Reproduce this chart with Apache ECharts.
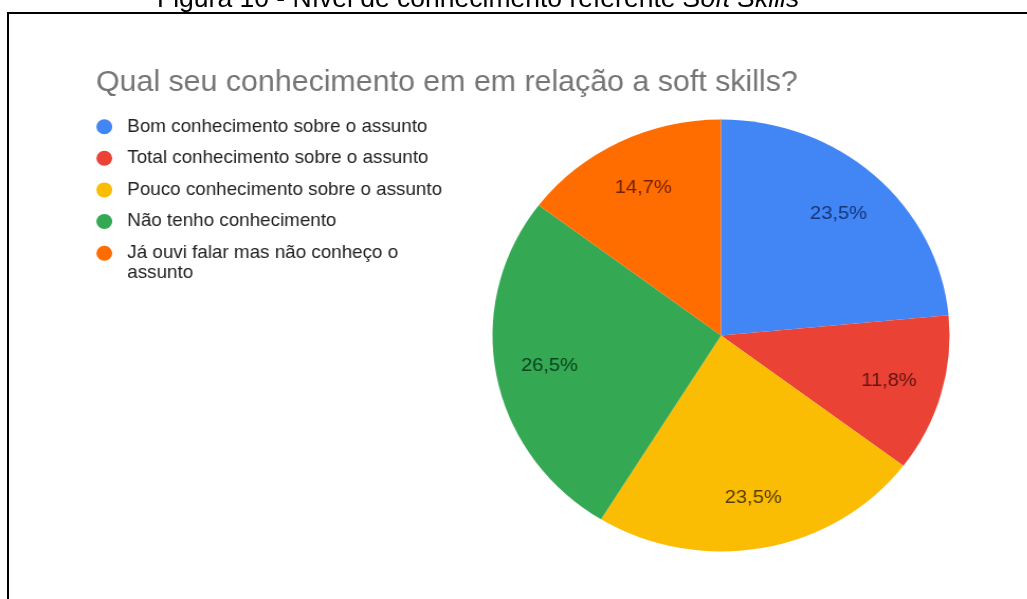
<!DOCTYPE html>
<html>
<head>
<meta charset="utf-8">
<script src="https://cdn.jsdelivr.net/npm/echarts@6/dist/echarts.min.js"></script>
<style>
  html, body { margin: 0; padding: 0; background: #fff; }
  #frame { position: absolute; left: 0; top: 0; width: 1027px; height: 599px; }
  #chart { position: absolute; left: 0; top: 0; width: 971px; height: 599px;
           transform: scaleX(1.058); transform-origin: 0 0; filter: blur(0.45px); }
</style>
</head>
<body>
<div id="frame"></div>
<div id="chart"></div>
<script>
// Survey answers: "Qual seu conhecimento em em relação a soft skills?"
const categories = [
  'Bom conhecimento sobre o assunto',
  'Total conhecimento sobre o assunto',
  'Pouco conhecimento sobre o assunto',
  'Não tenho conhecimento',
  'Já ouvi falar mas não conheço o assunto'
];
const shares = [23.5, 11.8, 23.5, 26.5, 14.7];   // percent of answers

const sliceColors = ['#4285f4', '#ea4335', '#fbbc04', '#34a853', '#ff6d01'];
const labelColors = ['#17367a', '#661210', '#573d00', '#0a451d', '#732300'];

const FONT = 'Arial, "Liberation Sans", sans-serif';

// Document caption and the framing box around the figure
const frame = echarts.init(document.getElementById('frame'), null, { renderer: 'canvas' });
frame.setOption({
  animation: false,
  graphic: [
    {
      type: 'rect',
      shape: { x: 8, y: 13, width: 3000, height: 3000 },
      style: { fill: 'none', stroke: '#000', lineWidth: 2 }
    },
    {
      type: 'text',
      x: 157, y: 0,
      style: {
        text: '{a|Figura 10 - Nível de conhecimento referente }{b|Soft Skills}',
        verticalAlign: 'middle',
        rich: {
          a: { fontFamily: FONT, fontSize: 26.5, fill: '#000' },
          b: { fontFamily: FONT, fontSize: 26.5, fontStyle: 'italic', fill: '#000' }
        }
      }
    }
  ]
});

const pieData = categories.map((name, i) => ({
  name,
  value: shares[i],
  itemStyle: { color: sliceColors[i] },
  label: { color: labelColors[i] }
}));

const legendText = { fontFamily: FONT, fontSize: 17.8, color: '#222', lineHeight: 20 };

const chart = echarts.init(document.getElementById('chart'), null, { renderer: 'canvas' });
chart.setOption({
  animation: false,
  title: {
    text: 'Qual seu conhecimento em em relação a soft skills?',
    left: 90.7, top: 69, padding: 0,
    textStyle: { fontFamily: FONT, fontSize: 28.7, fontWeight: 'normal', color: '#757575', lineHeight: 28 }
  },
  legend: [
    {
      orient: 'vertical',
      left: 91.1, top: 116.7, padding: 0,
      itemWidth: 33.4, itemHeight: 15, itemGap: 11.6,
      icon: 'circle',
      data: categories.slice(0, 4),
      textStyle: legendText
    },
    {
      // last entry wraps; a leading blank line keeps the dot beside its first line
      orient: 'vertical',
      left: 91.1, top: 223.3, padding: 0,
      itemWidth: 33.4, itemHeight: 15,
      icon: 'circle',
      data: categories.slice(4),
      formatter: name => '\n' + name,
      textStyle: Object.assign({}, legendText, { width: 300, overflow: 'break' })
    }
  ],
  series: [
    {
      type: 'pie',
      center: [681.5, 335.5],
      radius: [0, 216],
      startAngle: 90,
      clockwise: true,
      data: pieData,
      label: { show: false },
      labelLine: { show: false },
      emphasis: { disabled: true }
    },
    {
      // transparent ring carrying the percentage labels at ~3/4 of the radius
      type: 'pie',
      center: [681.5, 335.5],
      radius: [108, 216],
      startAngle: 90,
      clockwise: true,
      silent: true,
      data: pieData.map(d => ({ name: d.name, value: d.value, label: d.label })),
      itemStyle: { color: 'rgba(0,0,0,0)' },
      label: {
        show: true,
        position: 'inside',
        fontFamily: FONT,
        fontSize: 19,
        formatter: p => p.value.toFixed(1).replace('.', ',') + '%'
      },
      labelLine: { show: false },
      emphasis: { disabled: true }
    }
  ]
});
</script>
</body>
</html>
